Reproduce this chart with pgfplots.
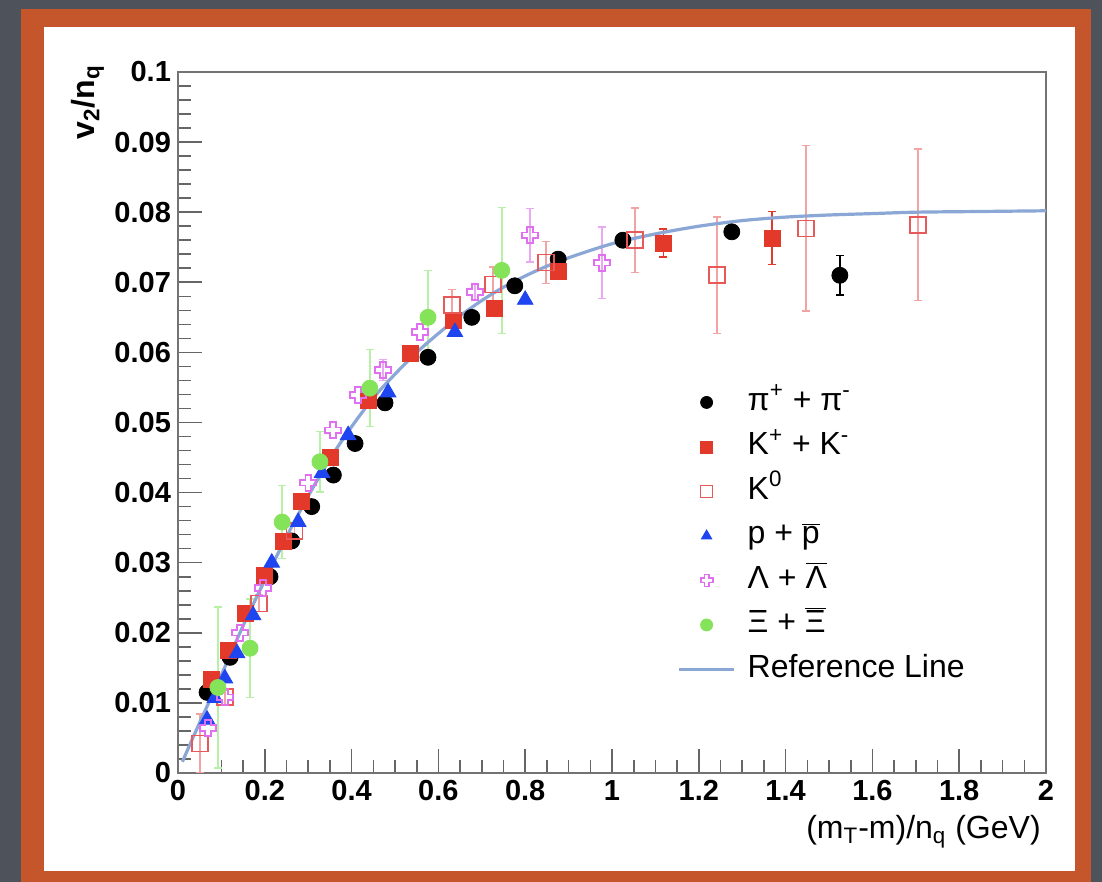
\documentclass[border=0pt]{standalone}
\usepackage{pgfplots}
\pgfplotsset{compat=1.18}
\usepackage{fontspec}
\setmainfont{Liberation Sans}

\definecolor{bgdark}{HTML}{4E525A}
\definecolor{frameorange}{HTML}{C5552A}
\definecolor{kred}{HTML}{E3392B}
\definecolor{kzero}{HTML}{E85A5A}
\definecolor{kzeroerr}{HTML}{F2A3A3}
\definecolor{pblue}{HTML}{1F45F0}
\definecolor{lammag}{HTML}{E070F0}
\definecolor{lamerr}{HTML}{E8A8F2}
\definecolor{xigreen}{HTML}{85E35A}
\definecolor{xierr}{HTML}{B8F0A8}
\definecolor{refblue}{HTML}{8AA7D6}

\newcommand\fs[1]{\fontsize{#1}{#1}\selectfont}

% ROOT style open cross
\pgfdeclareplotmark{ocross}{%
  \pgfpathmoveto{\pgfqpoint{-0.35\pgfplotmarksize}{\pgfplotmarksize}}%
  \pgfpathlineto{\pgfqpoint{0.35\pgfplotmarksize}{\pgfplotmarksize}}%
  \pgfpathlineto{\pgfqpoint{0.35\pgfplotmarksize}{0.35\pgfplotmarksize}}%
  \pgfpathlineto{\pgfqpoint{\pgfplotmarksize}{0.35\pgfplotmarksize}}%
  \pgfpathlineto{\pgfqpoint{\pgfplotmarksize}{-0.35\pgfplotmarksize}}%
  \pgfpathlineto{\pgfqpoint{0.35\pgfplotmarksize}{-0.35\pgfplotmarksize}}%
  \pgfpathlineto{\pgfqpoint{0.35\pgfplotmarksize}{-\pgfplotmarksize}}%
  \pgfpathlineto{\pgfqpoint{-0.35\pgfplotmarksize}{-\pgfplotmarksize}}%
  \pgfpathlineto{\pgfqpoint{-0.35\pgfplotmarksize}{-0.35\pgfplotmarksize}}%
  \pgfpathlineto{\pgfqpoint{-\pgfplotmarksize}{-0.35\pgfplotmarksize}}%
  \pgfpathlineto{\pgfqpoint{-\pgfplotmarksize}{0.35\pgfplotmarksize}}%
  \pgfpathlineto{\pgfqpoint{-0.35\pgfplotmarksize}{0.35\pgfplotmarksize}}%
  \pgfpathclose
  \pgfusepathqstroke
}

\begin{document}
\begin{tikzpicture}
% slide background, frame and white card (1px = 0.5pt)
\fill[bgdark] (0,0) rectangle (551pt,441pt);
\fill[frameorange] (10.5pt,0) rectangle (545.5pt,436.5pt);
\fill[white] (22pt,5.5pt) rectangle (537.5pt,427.5pt);

\begin{axis}[
  at={(89pt,54.5pt)}, anchor=south west,
  scale only axis, width=434pt, height=350.5pt,
  xmin=0, xmax=2, ymin=0, ymax=0.1,
  xtick={0,0.2,0.4,0.6,0.8,1,1.2,1.4,1.6,1.8,2},
  ytick={0,0.01,0.02,0.03,0.04,0.05,0.06,0.07,0.08,0.09,0.1},
  minor x tick num=3, minor y tick num=4,
  xtick pos=lower, ytick pos=left, tick align=inside,
  major tick length=12pt, minor tick length=6.5pt,
  axis line style={black!55, line width=1.2pt},
  every tick/.style={black!60, line width=0.8pt},
  scaled ticks=false,
  tick label style={font=\bfseries\fs{14.5}, /pgf/number format/assume math mode=true},
  xticklabel style={/pgf/number format/.cd, fixed, precision=1},
  yticklabel style={/pgf/number format/.cd, fixed, precision=2},
  xlabel={(m\textsubscript{T}-m)/n\textsubscript{q} (GeV)},
  xlabel style={font=\fs{16}, at={(axis description cs:1.002,-0.05)}, anchor=north east},
  ylabel={\bfseries v\textsubscript{2}/n\textsubscript{q}},
  ylabel style={font=\fs{16}, at={(axis description cs:-0.077,1.02)}, anchor=south east},
  error bars/y dir=both, error bars/y explicit,
  error bars/error mark options={rotate=90, mark size=2pt, line width=0.7pt},
  legend style={draw=none, fill=none, inner sep=0pt,
    at={(axis cs:1.15,0.0552)}, anchor=north west,
    font=\fs{16}, row sep=6.25pt,
    nodes={inner sep=1pt, text height=11pt, text depth=3pt},
    /tikz/every odd column/.append style={column sep=5pt}},
  legend cell align=left,
  legend image code/.code={\draw[#1, mark repeat=2, mark phase=2]
    plot coordinates {(0pt,0pt) (13.75pt,0pt) (27.5pt,0pt)};},
  legend image post style={mark size=3pt},
]
% pi+ + pi-
\addplot[only marks, black, mark=*, mark size=4pt,
  error bars/error bar style={black, line width=0.7pt}]
coordinates {
(0.067,0.0115) (0.120,0.0165) (0.212,0.0280) (0.262,0.0331) (0.308,0.0380)
(0.358,0.0425) (0.408,0.0470) (0.477,0.0528) (0.576,0.0593) (0.677,0.0650)
(0.776,0.0695) (0.876,0.0733) (1.025,0.0760)
(1.276,0.0772) +- (0,0.0008) (1.525,0.0710) +- (0,0.0028)
};
\addlegendentry{π\textsuperscript{+} + π\textsuperscript{-}}

% K+ + K-
\addplot[only marks, kred, mark=square*, mark size=4pt,
  error bars/error bar style={kred, line width=0.7pt}]
coordinates {
(0.078,0.0133) (0.116,0.0175) (0.155,0.0228) (0.200,0.0282) (0.243,0.0330)
(0.285,0.0387) (0.350,0.0450)
(0.438,0.0532) +- (0,0.0010) (0.535,0.0599) +- (0,0.0010)
(0.634,0.0646) +- (0,0.0010) (0.730,0.0663) +- (0,0.0010)
(0.876,0.0715) +- (0,0.0010) (1.118,0.0756) +- (0,0.0020)
(1.369,0.0763) +- (0,0.0038)
};
\addlegendentry{K\textsuperscript{+} + K\textsuperscript{-}}

% K0
\addplot[only marks, kzero, mark=square, mark size=4pt, mark options={line width=0.8pt},
  error bars/error bar style={kzeroerr, line width=0.8pt}]
coordinates {
(0.050,0.0042) +- (0,0.0042) (0.108,0.0108) +- (0,0.0010)
(0.187,0.0242) +- (0,0.0012) (0.268,0.0345) +- (0,0.0010)
(0.631,0.0668) +- (0,0.0022) (0.726,0.0697) +- (0,0.0025)
(0.848,0.0728) +- (0,0.0030) (1.053,0.0760) +- (0,0.0046)
(1.242,0.0710) +- (0,0.0083) (1.447,0.0777) +- (0,0.0118)
(1.705,0.0782) +- (0,0.0108)
};
\addlegendentry{K\textsuperscript{0}}

% p + pbar
\addplot[only marks, pblue, mark=triangle*, mark size=4.5pt]
coordinates {
(0.067,0.0076) (0.085,0.0107) (0.108,0.0135) (0.136,0.0171) (0.173,0.0225)
(0.216,0.0300) (0.277,0.0358) (0.332,0.0428) (0.392,0.0482) (0.484,0.0543)
(0.638,0.0629) (0.800,0.0675)
};
\addlegendentry{p + $\overline{\hbox{p}}$}

% Lambda + Lambdabar
\addplot[only marks, lammag, mark=ocross, mark size=4pt, mark options={line width=0.9pt},
  error bars/error bar style={lamerr, line width=0.8pt}]
coordinates {
(0.069,0.0064) (0.108,0.0108) (0.143,0.0200) (0.196,0.0264) (0.300,0.0414)
(0.357,0.0489) (0.415,0.0539) (0.472,0.0575) +- (0,0.0015)
(0.558,0.0629) (0.684,0.0686) +- (0,0.0012)
(0.811,0.0767) +- (0,0.0038) (0.977,0.0728) +- (0,0.0051)
};
\addlegendentry{Λ + $\overline{\hbox{Λ}}$}

% Xi + Xibar
\addplot[only marks, xigreen, mark=*, mark size=4pt,
  error bars/error bar style={xierr, line width=0.8pt}]
coordinates {
(0.092,0.0122) +- (0,0.0115) (0.166,0.0178) +- (0,0.0070)
(0.240,0.0358) +- (0,0.0052) (0.327,0.0444) +- (0,0.0043)
(0.442,0.0549) +- (0,0.0055) (0.576,0.0650) +- (0,0.0067)
(0.746,0.0717) +- (0,0.0090)
};
\addlegendentry{Ξ + $\overline{\hbox{Ξ}}$}

% reference line
\addplot[refblue, line width=1.6pt, smooth, no marks, error bars/y dir=none]
coordinates {
(0.01,0.0016) (0.05,0.0072) (0.10,0.0140) (0.15,0.0210) (0.20,0.0275)
(0.25,0.0337) (0.30,0.0395) (0.35,0.0448) (0.40,0.0494) (0.45,0.0535)
(0.50,0.0569) (0.55,0.0600) (0.60,0.0627) (0.65,0.0652) (0.70,0.0674)
(0.75,0.0693) (0.80,0.0709) (0.85,0.0723) (0.90,0.0735) (1.00,0.0755)
(1.10,0.0769) (1.20,0.0780) (1.30,0.0788) (1.40,0.0793) (1.50,0.0796)
(1.60,0.0798) (1.70,0.0800) (1.85,0.0801) (2.00,0.0802)
};
\addlegendentry{Reference Line}
\end{axis}
\pgfresetboundingbox
\useasboundingbox (0,0) rectangle (551pt,441pt);
\end{tikzpicture}
\end{document}
